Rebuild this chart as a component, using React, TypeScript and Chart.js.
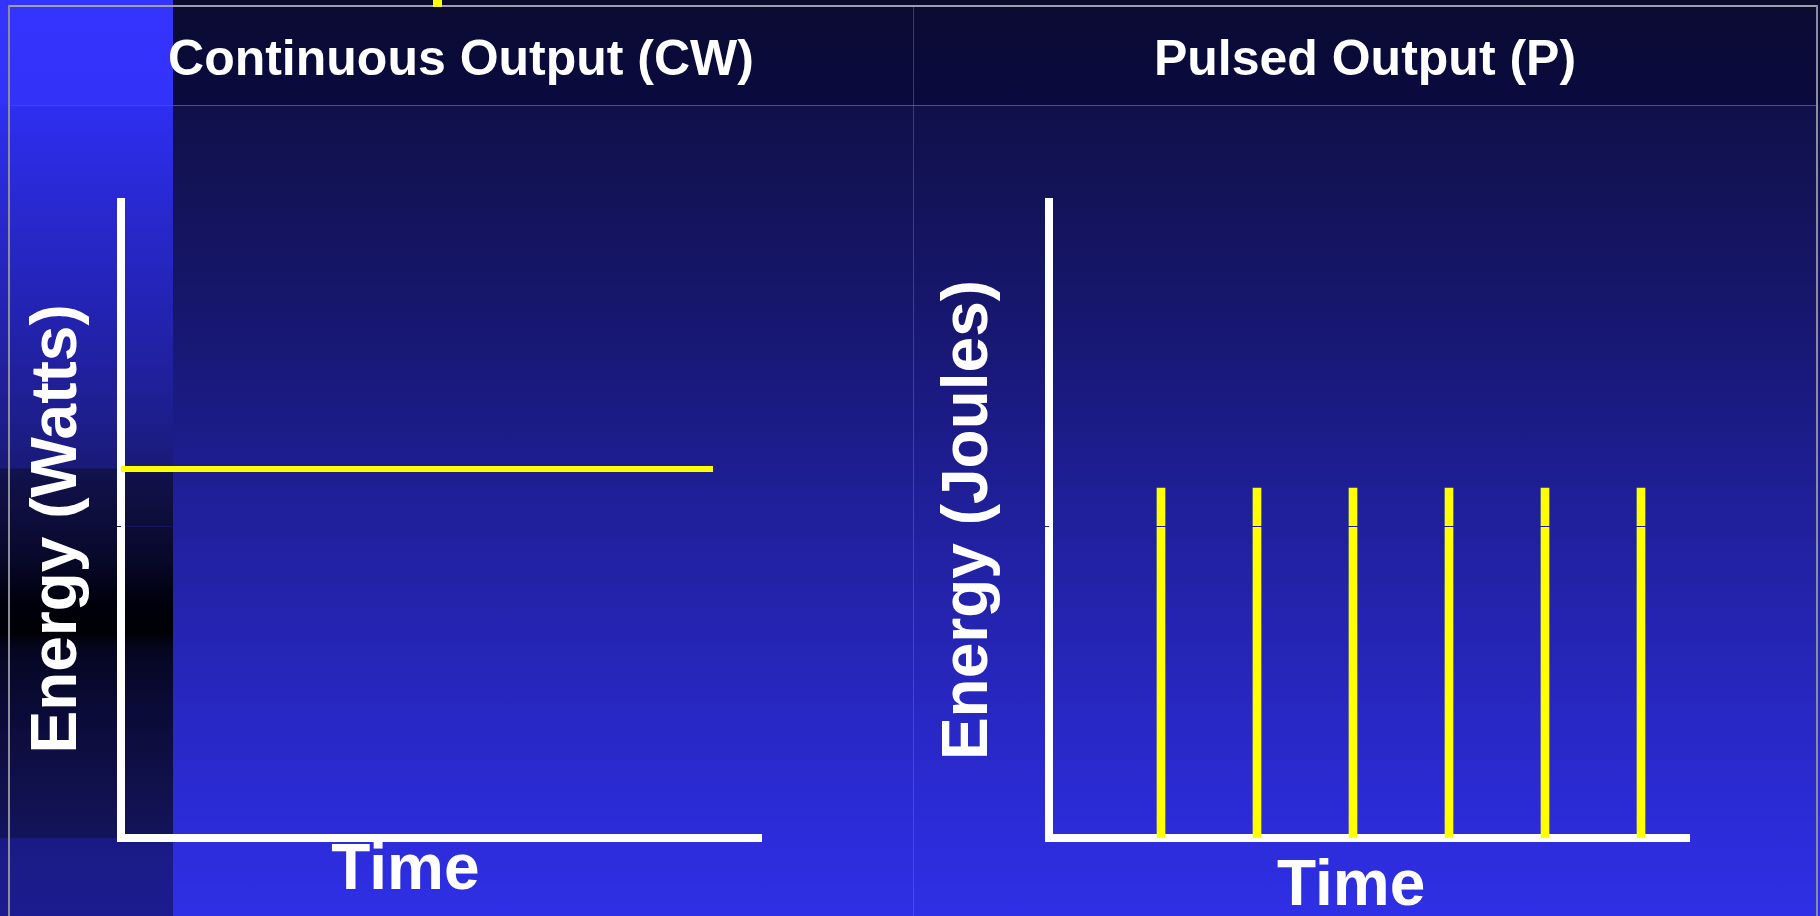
import React, { useEffect, useRef } from 'react';
import { Chart, registerables } from 'chart.js';

Chart.register(...registerables);

const FONT = "'Liberation Sans', Arial, Helvetica, sans-serif";

// ---- texts ----
const PANEL_TITLES = ['Continuous Output (CW)', 'Pulsed Output (P)'];
const X_TITLES = ['Time    ', 'Time  '];
const Y_TITLES = ['Energy (Watts) ', 'Energy (Joules)'];

// ---- scales ----
const TIME_RANGE = [0, 100];
const ENERGY_RANGE = [0, 100];
const ENERGY_GRID = [49];

// ---- continuous output series ----
const CW_TIME = [0, 92.5];
const CW_ENERGY = [58, 58];

// ---- pulsed output series ----
const PULSE_TIME = [17.5, 32.5, 47.5, 62.5, 77.5, 92.5];
const PULSE_ENERGY = [55, 55, 55, 55, 55, 55];

const WHITE = '#ffffff';
const YELLOW = '#ffff00';

function axisTitle(text: string, lineHeight: number, padding: any) {
  return {
    display: true,
    text,
    color: WHITE,
    font: { family: FONT, size: 64, weight: 'bold' as const, lineHeight },
    padding,
  };
}

function baseScales(xTitle: any, yTitle: any, gridColor: any) {
  return {
    x: {
      type: 'linear' as const,
      axis: 'x',
      position: 'bottom',
      min: TIME_RANGE[0],
      max: TIME_RANGE[1],
      offset: false,
      ticks: { display: false },
      grid: { display: false, drawTicks: false, offset: false },
      border: { display: true, color: WHITE, width: 8 },
      title: xTitle,
    },
    y: {
      type: 'linear' as const,
      axis: 'y',
      position: 'left',
      weight: 1,
      min: ENERGY_RANGE[0],
      max: ENERGY_RANGE[1],
      ticks: { display: false },
      grid: { display: false, drawTicks: false },
      border: { display: true, color: WHITE, width: 8 },
      title: yTitle,
    },
    // a zero-width companion axis carrying the single mid-level grid line,
    // drawn above the data like in the original slide
    yGrid: {
      type: 'linear' as const,
      axis: 'y',
      position: 'left',
      weight: 0,
      min: ENERGY_RANGE[0],
      max: ENERGY_RANGE[1],
      afterBuildTicks: (scale: any) => {
        scale.ticks = ENERGY_GRID.map((v) => ({ value: v }));
      },
      ticks: { display: false },
      title: { display: false },
      grid: {
        display: true,
        drawOnChartArea: true,
        drawTicks: true,
        tickLength: 0,
        lineWidth: 1,
        color: gridColor,
        z: 1,
      },
      border: { display: true, color: 'rgba(0,0,0,0)', width: 8 },
    },
  };
}

export default function App() {
  const leftRef = useRef<HTMLCanvasElement | null>(null);
  const rightRef = useRef<HTMLCanvasElement | null>(null);

  useEffect(() => {
    document.body.style.margin = '0';
    const charts: Chart[] = [];

    if (leftRef.current) {
      const leftGrid = (ctx: any) => {
        const c = ctx.chart;
        const g = c.ctx.createLinearGradient(0, 0, c.width, 0);
        const s = 173 / c.width;
        g.addColorStop(0, '#14145a');
        g.addColorStop(s, '#14145a');
        g.addColorStop(s, '#1f1f9c');
        g.addColorStop(1, '#1f1f9c');
        return g;
      };
      charts.push(
        new Chart(leftRef.current, {
          type: 'line',
          data: {
            datasets: [
              {
                label: PANEL_TITLES[0],
                data: CW_TIME.map((t, i) => ({ x: t, y: CW_ENERGY[i] })),
                xAxisID: 'x',
                yAxisID: 'y',
                borderColor: YELLOW,
                backgroundColor: YELLOW,
                borderWidth: 6,
                borderCapStyle: 'butt',
                pointRadius: 0,
                tension: 0,
                fill: false,
              },
            ],
          },
          options: {
            animation: false,
            responsive: false,
            maintainAspectRatio: false,
            events: [],
            layout: { padding: { left: 0, right: 152, top: 97, bottom: 13 } },
            plugins: { legend: { display: false }, tooltip: { enabled: false }, title: { display: false } },
            scales: baseScales(
              axisTitle(X_TITLES[0], 1, { top: 1, bottom: 0 }),
              axisTitle(Y_TITLES[0], 1, { top: 26, bottom: 31 }),
              leftGrid
            ) as any,
          },
        })
      );
    }

    if (rightRef.current) {
      charts.push(
        new Chart(rightRef.current, {
          type: 'bar',
          data: {
            datasets: [
              {
                label: PANEL_TITLES[1],
                data: PULSE_TIME.map((t, i) => ({ x: t, y: PULSE_ENERGY[i] })),
                xAxisID: 'x',
                yAxisID: 'y',
                backgroundColor: YELLOW,
                borderWidth: 0,
                barThickness: 8,
              },
            ],
          },
          options: {
            animation: false,
            responsive: false,
            maintainAspectRatio: false,
            events: [],
            layout: { padding: { left: 0, right: 131, top: 97, bottom: 0 } },
            plugins: { legend: { display: false }, tooltip: { enabled: false }, title: { display: false } },
            scales: baseScales(
              axisTitle(X_TITLES[1], 58 / 64, { top: 20, bottom: 0 }),
              axisTitle(Y_TITLES[1], 1, { top: 24.5, bottom: 47.5 }),
              '#1f1f9e'
            ) as any,
          },
        })
      );
    }

    return () => {
      charts.forEach((c) => c.destroy());
    };
  }, []);

  const abs = (s: React.CSSProperties): React.CSSProperties => ({ position: 'absolute', ...s });

  const titleStyle: React.CSSProperties = {
    position: 'absolute',
    top: 33,
    height: 50,
    lineHeight: '50px',
    fontFamily: FONT,
    fontWeight: 'bold',
    fontSize: 50,
    color: WHITE,
    textAlign: 'center',
    whiteSpace: 'nowrap',
  };

  return (
    <div
      style={{
        position: 'absolute',
        left: 0,
        top: 0,
        width: 1820,
        height: 916,
        overflow: 'hidden',
        background:
          'linear-gradient(to bottom, #0a0a2a 0px, #0b0b32 6px, #0a0a40 104px, #10104a 106px, #13135a 200px, #16166c 300px, #1a1a82 400px, #1f1f98 500px, #2323ac 600px, #2727c0 700px, #2b2bd4 800px, #2f2fe6 916px)',
      }}
    >
      <div
        style={abs({
          left: 0,
          top: 0,
          width: 173,
          height: 916,
          background:
            'linear-gradient(to bottom, #3434ff 0px, #3232f8 104px, #2e2ef0 110px, #2828cc 220px, #2424b8 293px, #1e1e90 412px, #1a1a78 468px, #12124e 469px, #0d0d3a 522px, #08082a 559px, #00000c 605px, #000005 632px, #060622 650px, #0a0a36 705px, #10104a 779px, #13135c 837px, #1a1a86 839px, #1c1c90 916px)',
        })}
      />
      <div style={abs({ left: 8, top: 5, width: 1810, height: 2, background: '#a0a0aa' })} />
      <div style={abs({ left: 8, top: 5, width: 2, height: 911, background: '#8c8c9a' })} />
      <div style={abs({ left: 1816, top: 5, width: 2, height: 911, background: '#8c8c9a' })} />
      <div style={abs({ left: 10, top: 105, width: 1806, height: 1, background: '#4e4e8c' })} />
      <div style={abs({ left: 913, top: 7, width: 1, height: 909, background: 'rgba(110,110,190,0.45)' })} />
      <div style={abs({ left: 433, top: 0, width: 9, height: 7, background: YELLOW })} />

      <canvas ref={leftRef} width={913} height={811} style={abs({ left: 0, top: 105, width: 913, height: 811 })} />
      <canvas ref={rightRef} width={907} height={811} style={abs({ left: 913, top: 105, width: 907, height: 811 })} />

      <div style={{ ...titleStyle, left: 9, width: 904 }}>{PANEL_TITLES[0]}</div>
      <div style={{ ...titleStyle, left: 913, width: 904 }}>{PANEL_TITLES[1]}</div>
    </div>
  );
}
